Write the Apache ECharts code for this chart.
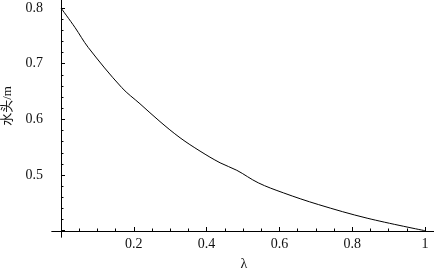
<!DOCTYPE html>
<html><head><meta charset="utf-8">
<script src="https://cdn.jsdelivr.net/npm/echarts@6/dist/echarts.min.js"></script>
<style>html,body{margin:0;padding:0;background:#fff}#c{width:434px;height:274px}</style>
</head><body><div id="c"></div>
<script>
// data
const lambda = [0, 0.0385, 0.075, 0.167, 0.217, 0.272, 0.327, 0.382, 0.437, 0.483, 0.542, 0.611, 0.707, 0.841, 1];
const head   = [0.800, 0.765, 0.729, 0.657, 0.628, 0.596, 0.567, 0.543, 0.522, 0.5085, 0.486, 0.468, 0.447, 0.4225, 0.400];
const xMajorTicks = [0.2, 0.4, 0.6, 0.8, 1];
const xMinorTicks = [0.05, 0.1, 0.15, 0.25, 0.3, 0.35, 0.45, 0.5, 0.55, 0.65, 0.7, 0.75, 0.85, 0.9, 0.95];
const yMajorTicks = [0.4, 0.5, 0.6, 0.7, 0.8];
const yTickLabels = [0.5, 0.6, 0.7, 0.8];
const yMinorTicks = [0.42, 0.44, 0.46, 0.48, 0.52, 0.54, 0.56, 0.58, 0.62, 0.64, 0.66, 0.68, 0.72, 0.74, 0.76, 0.78];
const xName = 'λ';
const yName = '水头/m';

const font = '"Liberation Serif", serif';
const X_MIN = -0.0247, X_MAX = 1.0247, Y_MIN = 0.3887, Y_MAX = 0.8144;
const fmt = v => (Math.abs(v - 1) < 1e-9 ? '1' : v.toFixed(1));

const chart = echarts.init(document.getElementById('c'), null, {renderer: 'canvas'});
const baseX = {
  type: 'value', min: X_MIN, max: X_MAX, position: 'bottom', offset: -6,
  splitLine: {show: false},
  axisLine: {onZero: false, lineStyle: {color: '#000', width: 1}}
};
const baseY = {
  type: 'value', min: Y_MIN, max: Y_MAX, position: 'left',
  splitLine: {show: false},
  axisLine: {onZero: true, onZeroAxisIndex: 0, lineStyle: {color: '#000', width: 1}}
};
chart.setOption({
  animation: false,
  grid: {left: 52, top: 0, width: 382, height: 237, containLabel: false},
  xAxis: [
    Object.assign({}, baseX, {
      axisTick: {show: true, inside: true, length: 4, customValues: xMajorTicks, lineStyle: {color: '#000'}},
      axisLabel: {show: true, customValues: xMajorTicks, formatter: fmt, color: '#111', fontFamily: font, fontSize: 14, margin: 6}
    }),
    Object.assign({}, baseX, {
      axisTick: {show: true, inside: true, length: 2.5, customValues: xMinorTicks, lineStyle: {color: '#000'}},
      axisLabel: {show: false}
    })
  ],
  yAxis: [
    Object.assign({}, baseY, {
      axisTick: {show: true, inside: true, length: 4, customValues: yMajorTicks, lineStyle: {color: '#000'}},
      axisLabel: {show: true, customValues: yTickLabels, formatter: fmt, color: '#111', fontFamily: font, fontSize: 14, margin: 9}
    }),
    Object.assign({}, baseY, {
      axisTick: {show: true, inside: true, length: 2.5, customValues: yMinorTicks, lineStyle: {color: '#000'}},
      axisLabel: {show: false}
    })
  ],
  graphic: [
    {type: 'text', x: 244, y: 264, style: {text: xName, font: '14px "Liberation Serif", serif', fill: '#111', align: 'center', verticalAlign: 'middle'}},
    {type: 'text', x: 8, y: 106, rotation: Math.PI / 2, style: {text: yName, font: '13px "Liberation Serif", "Noto Sans CJK SC", serif', fill: '#111', align: 'center', verticalAlign: 'middle'}}
  ],
  series: [{
    type: 'line', xAxisIndex: 0, yAxisIndex: 0,
    data: lambda.map((x, i) => [x, head[i]]),
    showSymbol: false, smooth: 0.35,
    lineStyle: {color: '#000', width: 1}
  }]
});
</script></body></html>
